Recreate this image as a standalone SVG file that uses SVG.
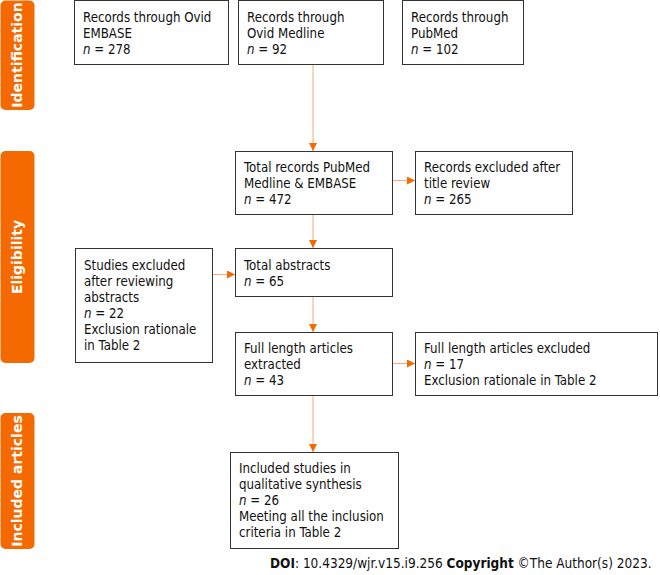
<svg xmlns="http://www.w3.org/2000/svg" width="660" height="575" viewBox="0 0 660 575">
<defs>
<style>
.box{fill:#fff;stroke:#333;stroke-width:1}
.t{font-family:"DejaVu Sans Condensed","DejaVu Sans",sans-serif;font-size:13.2px;fill:#111}
.bar{fill:#F56A00}
.bt{font-family:"DejaVu Sans","Liberation Sans",sans-serif;font-size:14px;font-weight:bold;fill:#fff}
.ln{stroke:#F5A878;stroke-width:1;fill:none}
.foot{font-family:"DejaVu Sans Condensed","DejaVu Sans",sans-serif;font-size:13.5px;fill:#111}
</style>
<marker id="ah" viewBox="0 0 10 10" refX="10" refY="5" markerWidth="8" markerHeight="8" markerUnits="userSpaceOnUse" orient="auto">
<path d="M0,0 L10,5 L0,10 z" fill="#F56A00"/>
</marker>
</defs>

<g id="stage-identification">
<rect class="bar" x="0.5" y="0.5" width="34" height="109.5" rx="5"/>
<text class="bt" transform="translate(22,55) rotate(-90)" text-anchor="middle">Identification</text>
</g>
<g id="stage-eligibility">
<rect class="bar" x="0.5" y="151" width="34" height="212" rx="5"/>
<text class="bt" transform="translate(22,257) rotate(-90)" text-anchor="middle">Eligibility</text>
</g>
<g id="stage-included">
<rect class="bar" x="0.5" y="413" width="34" height="136" rx="5"/>
<text class="bt" transform="translate(22,481) rotate(-90)" text-anchor="middle">Included articles</text>
</g>

<g id="connectors">
<line class="ln" x1="313" y1="64" x2="313" y2="151" marker-end="url(#ah)"/>
<line class="ln" x1="392" y1="180.5" x2="415" y2="180.5" marker-end="url(#ah)"/>
<line class="ln" x1="313" y1="214" x2="313" y2="248" marker-end="url(#ah)"/>
<line class="ln" x1="212" y1="274.5" x2="235" y2="274.5" marker-end="url(#ah)"/>
<line class="ln" x1="313" y1="297" x2="313" y2="332" marker-end="url(#ah)"/>
<line class="ln" x1="392" y1="363.5" x2="415" y2="363.5" marker-end="url(#ah)"/>
<line class="ln" x1="313" y1="395" x2="313" y2="452" marker-end="url(#ah)"/>
</g>

<g id="embase">
<rect class="box" x="74.5" y="0.5" width="154" height="64"/>
<text class="t" x="83" y="22">Records through Ovid</text>
<text class="t" x="83" y="38">EMBASE</text>
<text class="t" x="83" y="54"><tspan font-style="italic">n</tspan> = 278</text>
</g>
<g id="medline">
<rect class="box" x="238.5" y="0.5" width="145" height="64"/>
<text class="t" x="247" y="22">Records through</text>
<text class="t" x="247" y="38">Ovid Medline</text>
<text class="t" x="247" y="54"><tspan font-style="italic">n</tspan> = 92</text>
</g>
<g id="pubmed">
<rect class="box" x="402.5" y="0.5" width="121" height="64"/>
<text class="t" x="411" y="22">Records through</text>
<text class="t" x="411" y="38">PubMed</text>
<text class="t" x="411" y="54"><tspan font-style="italic">n</tspan> = 102</text>
</g>
<g id="total-records">
<rect class="box" x="235.5" y="151.5" width="157" height="63"/>
<text class="t" x="244" y="172">Total records PubMed</text>
<text class="t" x="244" y="188">Medline &amp; EMBASE</text>
<text class="t" x="244" y="204"><tspan font-style="italic">n</tspan> = 472</text>
</g>
<g id="excluded-title">
<rect class="box" x="415.5" y="151.5" width="157" height="63"/>
<text class="t" x="424" y="172">Records excluded after</text>
<text class="t" x="424" y="188">title review</text>
<text class="t" x="424" y="204"><tspan font-style="italic">n</tspan> = 265</text>
</g>
<g id="total-abstracts">
<rect class="box" x="235.5" y="248.5" width="157" height="48"/>
<text class="t" x="244" y="270">Total abstracts</text>
<text class="t" x="244" y="286"><tspan font-style="italic">n</tspan> = 65</text>
</g>
<g id="excluded-abstracts">
<rect class="box" x="75.5" y="248.5" width="137" height="114"/>
<text class="t" x="84" y="270">Studies excluded</text>
<text class="t" x="84" y="286">after reviewing</text>
<text class="t" x="84" y="302">abstracts</text>
<text class="t" x="84" y="318"><tspan font-style="italic">n</tspan> = 22</text>
<text class="t" x="84" y="334">Exclusion rationale</text>
<text class="t" x="84" y="350">in Table 2</text>
</g>
<g id="full-length">
<rect class="box" x="235.5" y="332.5" width="157" height="63"/>
<text class="t" x="244" y="353">Full length articles</text>
<text class="t" x="244" y="369">extracted</text>
<text class="t" x="244" y="385"><tspan font-style="italic">n</tspan> = 43</text>
</g>
<g id="full-excluded">
<rect class="box" x="415.5" y="332.5" width="242" height="63"/>
<text class="t" x="424" y="353">Full length articles excluded</text>
<text class="t" x="424" y="369"><tspan font-style="italic">n</tspan> = 17</text>
<text class="t" x="424" y="385">Exclusion rationale in Table 2</text>
</g>
<g id="included">
<rect class="box" x="230.5" y="452.5" width="168" height="96"/>
<text class="t" x="239" y="473">Included studies in</text>
<text class="t" x="239" y="489">qualitative synthesis</text>
<text class="t" x="239" y="505"><tspan font-style="italic">n</tspan> = 26</text>
<text class="t" x="239" y="521">Meeting all the inclusion</text>
<text class="t" x="239" y="537">criteria in Table 2</text>
</g>

<text class="foot" x="270" y="568"><tspan font-weight="bold">DOI</tspan>: 10.4329/wjr.v15.i9.256 <tspan font-weight="bold">Copyright</tspan> ©The Author(s) 2023.</text>
</svg>
